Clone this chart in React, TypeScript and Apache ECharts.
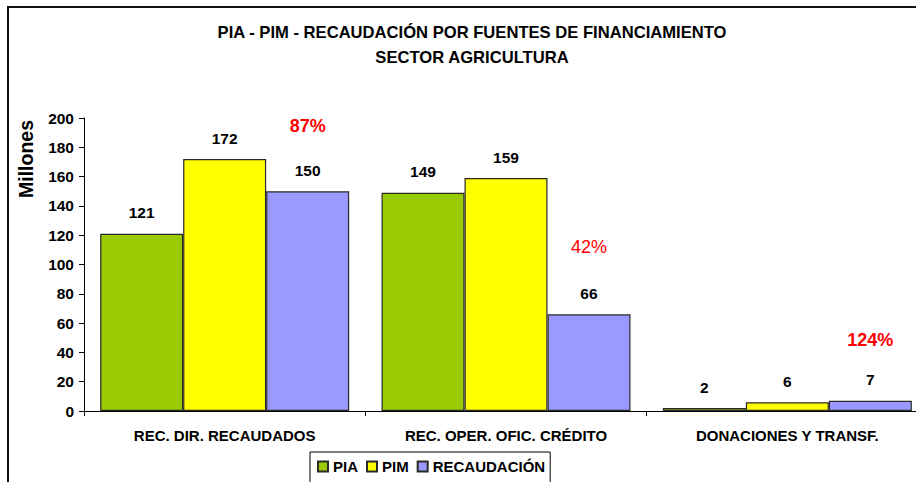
import React, { useEffect, useRef } from "react";
import * as echarts from "echarts";

const categories = ["REC. DIR. RECAUDADOS", "REC. OPER. OFIC. CRÉDITO", "DONACIONES Y TRANSF."];
const seriesNames = ["PIA", "PIM", "RECAUDACIÓN"];
const piaValues = [121, 149, 2];
const pimValues = [172, 159, 6];
const recValues = [150, 66, 7];
const seriesColors = ["#99CC00", "#FFFF00", "#9999FF"];
const pctLabels = ["87%", "42%", "124%"];
const pctLabelLevels = [194.5, 112, 48.5];
const pctLabelBold = [true, false, true];
const yTicks = { min: 0, max: 200, interval: 20 };

const FONT = "'Liberation Sans', Arial, sans-serif";
const GAP = 0.115;

export default function App() {
  const ref = useRef<HTMLDivElement>(null);
  useEffect(() => {
    if (!ref.current) return;
    const chart = echarts.init(ref.current, null, { renderer: "svg" });
    const values = [piaValues, pimValues, recValues];
    const barSeries = seriesNames.map((name, i) => ({
      name,
      type: "bar",
      data: values[i],
      barGap: "0%",
      barCategoryGap: GAP * 100 + "%",
      itemStyle: { color: seriesColors[i], borderColor: "#2a2a2a", borderWidth: 1.2 },
      label: {
        show: true,
        position: "top",
        distance: 13,
        color: "#000",
        fontWeight: "bold",
        fontSize: 15.5,
        fontFamily: FONT,
      },
    }));
    chart.setOption({
      animation: false,
      backgroundColor: "#fff",
      textStyle: { fontFamily: FONT },
      title: {
        text: "PIA - PIM - RECAUDACIÓN POR FUENTES DE FINANCIAMIENTO\nSECTOR AGRICULTURA",
        left: 467,
        top: 14.5,
        textAlign: "center",
        textStyle: { fontSize: 16.6, fontWeight: "bold", color: "#000", lineHeight: 25, fontFamily: FONT },
      },
      legend: {
        data: seriesNames,
        left: 310,
        top: 452,
        padding: [7, 5, 10, 7],
        borderColor: "#000",
        borderWidth: 1,
        itemWidth: 10,
        itemHeight: 10,
        itemGap: 8,
        icon: "rect",
        textStyle: { fontSize: 15, fontWeight: "bold", color: "#000", fontFamily: FONT },
      },
      grid: { left: 84, top: 118, width: 844, height: 293, containLabel: false, outerBoundsMode: "none" },
      xAxis: {
        type: "category",
        data: categories,
        axisLine: { lineStyle: { color: "#000", width: 1 } },
        axisTick: { show: true, length: 5, lineStyle: { color: "#000" } },
        axisLabel: { color: "#000", fontWeight: "bold", fontSize: 15, margin: 17, fontFamily: FONT },
      },
      yAxis: {
        type: "value",
        min: yTicks.min,
        max: yTicks.max,
        interval: yTicks.interval,
        splitLine: { show: false },
        axisLine: { show: true, lineStyle: { color: "#000", width: 1 } },
        axisTick: { show: true, length: 5, lineStyle: { color: "#000" } },
        axisLabel: { color: "#000", fontWeight: "bold", fontSize: 15.5, margin: 10, fontFamily: FONT },
      },
      series: [
        ...barSeries,
        {
          name: "pct",
          type: "custom",
          silent: true,
          z: 10,
          data: pctLabelLevels.map((v, i) => [i, v]),
          renderItem: (params: any, api: any) => {
            const idx = params.dataIndex;
            const p = api.coord([api.value(0), api.value(1)]);
            const w = api.size([1, 0])[0];
            const barW = (w * (1 - GAP)) / 3;
            return {
              type: "text",
              x: p[0] + barW,
              y: p[1],
              style: {
                text: pctLabels[idx],
                fill: "#FF0000",
                fontSize: 18,
                fontWeight: pctLabelBold[idx] ? "bold" : "normal",
                fontFamily: FONT,
                align: "center",
                verticalAlign: "middle",
              },
            };
          },
        },
      ],
      graphic: [
        {
          type: "rect",
          shape: { x: 8, y: 7, width: 2000, height: 2000 },
          style: { fill: "none", stroke: "#111", lineWidth: 2 },
          silent: true,
        },
        {
          type: "text",
          x: 26,
          y: 159,
          rotation: Math.PI / 2,
          style: {
            text: "Millones",
            fill: "#000",
            fontSize: 19.5,
            fontWeight: "bold",
            fontFamily: FONT,
            align: "center",
            verticalAlign: "middle",
          },
        },
      ],
    });
    return () => chart.dispose();
  }, []);
  return (
    <div
      ref={ref}
      style={{ position: "absolute", left: 0, top: 0, width: 916, height: 482, overflow: "hidden" }}
    />
  );
}
